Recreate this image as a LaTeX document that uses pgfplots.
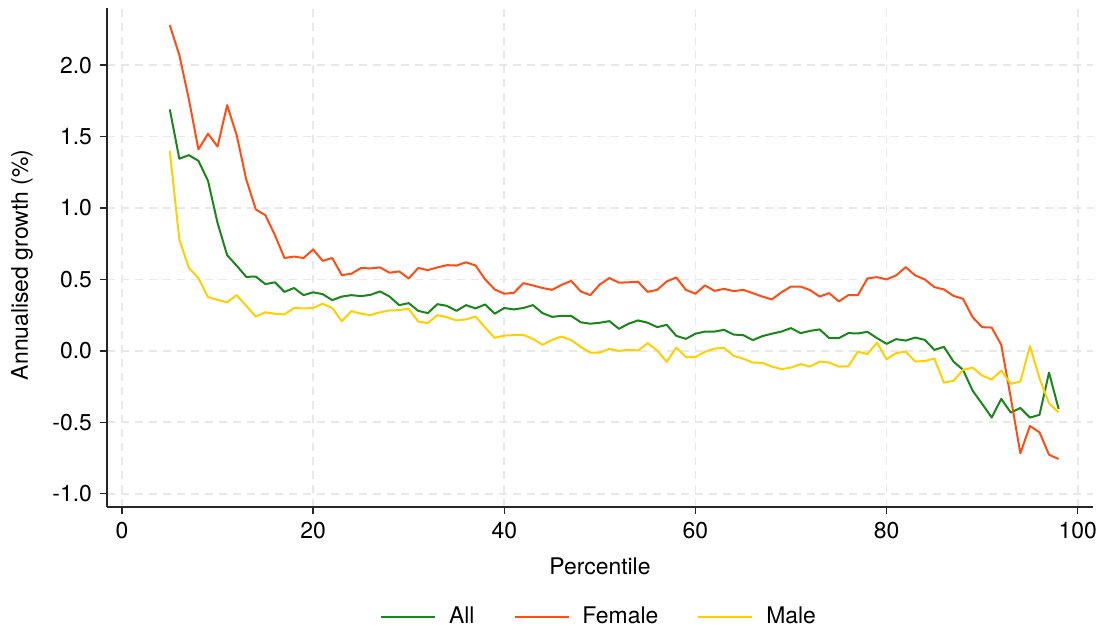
\documentclass[border=0pt]{standalone}
\usepackage{fontspec}
\setmainfont{TeX Gyre Heros}
\usepackage{pgfplots}
\usepackage{pgfplotstable}
\pgfplotsset{compat=1.18}
\definecolor{cAll}{RGB}{26,133,26}
\definecolor{cFem}{RGB}{255,77,20}
\definecolor{cMale}{RGB}{255,208,0}

\pgfplotstableread{
p all female male
5 1.69 2.28 1.40
6 1.345 2.07 0.78
7 1.37 1.76 0.58
8 1.33 1.41 0.51
9 1.19 1.52 0.376
10 0.895 1.43 0.357
11 0.67 1.72 0.34
12 0.596 1.51 0.39
13 0.518 1.20 0.315
14 0.52 0.99 0.24
15 0.467 0.95 0.27
16 0.48 0.81 0.26
17 0.413 0.65 0.255
18 0.44 0.66 0.30
19 0.39 0.65 0.297
20 0.41 0.71 0.30
21 0.397 0.63 0.33
22 0.355 0.65 0.30
23 0.38 0.53 0.208
24 0.39 0.54 0.278
25 0.383 0.58 0.26
26 0.392 0.577 0.25
27 0.416 0.584 0.27
28 0.38 0.547 0.283
29 0.32 0.556 0.285
30 0.334 0.507 0.294
31 0.28 0.58 0.205
32 0.264 0.565 0.194
33 0.327 0.584 0.25
34 0.315 0.60 0.236
35 0.28 0.597 0.213
36 0.32 0.62 0.22
37 0.297 0.597 0.24
38 0.325 0.50 0.163
39 0.26 0.43 0.091
40 0.30 0.40 0.107
41 0.29 0.406 0.11
42 0.30 0.474 0.112
43 0.32 0.458 0.084
44 0.264 0.44 0.042
45 0.238 0.427 0.077
46 0.245 0.462 0.10
47 0.245 0.49 0.075
48 0.20 0.416 0.028
49 0.19 0.39 -0.012
50 0.197 0.465 -0.012
51 0.208 0.51 0.014
52 0.154 0.477 0.0
53 0.19 0.48 0.007
54 0.213 0.484 0.003
55 0.197 0.413 0.054
56 0.166 0.427 0.003
57 0.182 0.486 -0.077
58 0.105 0.514 0.023
59 0.084 0.427 -0.044
60 0.12 0.40 -0.042
61 0.135 0.458 -0.007
62 0.135 0.42 0.016
63 0.147 0.434 0.021
64 0.114 0.418 -0.035
65 0.11 0.427 -0.054
66 0.075 0.404 -0.082
67 0.103 0.38 -0.084
68 0.12 0.36 -0.11
69 0.135 0.41 -0.128
70 0.159 0.45 -0.117
71 0.124 0.45 -0.093
72 0.14 0.425 -0.11
73 0.15 0.38 -0.075
74 0.089 0.404 -0.082
75 0.089 0.346 -0.11
76 0.124 0.39 -0.108
77 0.122 0.39 -0.005
78 0.133 0.507 -0.023
79 0.089 0.516 0.058
80 0.049 0.50 -0.058
81 0.082 0.528 -0.016
82 0.072 0.586 -0.005
83 0.093 0.528 -0.075
84 0.077 0.50 -0.071
85 0.007 0.446 -0.054
86 0.028 0.43 -0.222
87 -0.075 0.385 -0.21
88 -0.133 0.364 -0.133
89 -0.278 0.236 -0.117
90 -0.371 0.166 -0.173
91 -0.467 0.163 -0.201
92 -0.336 0.042 -0.138
93 -0.432 -0.33 -0.231
94 -0.40 -0.717 -0.215
95 -0.467 -0.526 0.033
96 -0.448 -0.57 -0.191
97 -0.152 -0.727 -0.367
98 -0.406 -0.757 -0.43
}\datatable

\begin{document}
\fontsize{11.5}{13.5}\selectfont
\begin{tikzpicture}
\path[use as bounding box] (-53.5bp,-61.5bp) rectangle (498.5bp,253.5bp);
\begin{axis}[
  at={(0,0)}, anchor=south west,
  scale only axis, width=493bp, height=249.5bp,
  xmin=-1.57, xmax=101.6, ymin=-1.093, ymax=2.40,
  axis x line*=bottom, axis y line*=left,
  axis line style={-, line width=0.7bp, black!85},
  xtick={0,20,40,60,80,100},
  ytick={-1,-0.5,0,0.5,1,1.5,2},
  tick align=outside, major tick length=3.5bp,
  tick style={black!85, line width=0.7bp},
  /pgf/number format/assume math mode=true,
  yticklabel style={/pgf/number format/.cd, fixed, fixed zerofill, precision=1},
  ticklabel style={font=\fontsize{11.5}{13.5}\selectfont},
  xmajorgrids, ymajorgrids,
  major grid style={black!9, dash pattern=on 4bp off 3bp, line width=0.8bp},
  xlabel={Percentile}, ylabel={Annualised growth (\%)},
  every axis x label/.style={at={(axis description cs:0.5,-0.118)}, anchor=center},
  every axis y label/.style={at={(axis description cs:-0.0862,0.485)}, rotate=90, anchor=center},
  legend columns=3,
  legend style={at={(axis description cs:0.5,-0.2204)}, anchor=center, draw=none, fill=none,
    font=\fontsize{11.5}{13.5}\selectfont,
    /tikz/every odd column/.append style={column sep=4.5bp},
    /tikz/every even column/.append style={column sep=17.5bp}},
  legend image code/.code={\draw[#1] (0bp,0bp) -- (27bp,0bp);},
  every axis plot/.append style={line width=1bp, line join=round},
]
\addplot[cAll, no markers] table[x=p, y=all] {\datatable};
\addlegendentry{All}
\addplot[cFem, no markers] table[x=p, y=female] {\datatable};
\addlegendentry{Female}
\addplot[cMale, no markers] table[x=p, y=male] {\datatable};
\addlegendentry{Male}
\end{axis}
\end{tikzpicture}
\end{document}
